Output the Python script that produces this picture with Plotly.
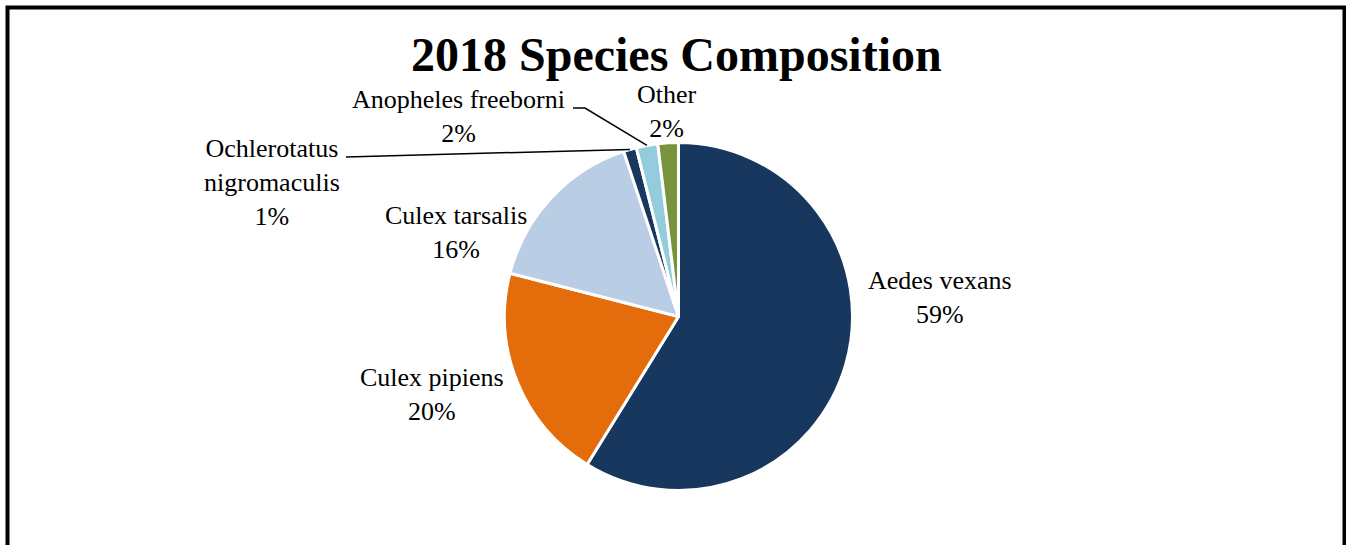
import math
import plotly.graph_objects as go

# 2018 trap counts by species, as a share of all mosquitoes (%)
species = ["Aedes vexans", "Culex pipiens", "Culex tarsalis",
           "Ochlerotatus nigromaculis", "Anopheles freeborni", "Other"]
shares = [58.8, 20.2, 15.9, 1.2, 2.0, 1.9]
colors = ["#17375E", "#E46C0A", "#B9CDE5", "#17375E", "#93CDDD", "#77933C"]

W, H = 1346, 545
CX, CY, R = 678.5, 316.5, 174.0   # pie centre / radius in pixels
SERIF = "Liberation Serif, Times New Roman, serif"


def px(x):
    return x / W


def py(y):
    return 1 - y / H


total = sum(shares)


def edge_point(i):
    """Pixel point on the rim at the middle of slice i (clockwise from 12 o'clock)."""
    start = sum(shares[:i])
    theta = math.radians((start + shares[i] / 2) / total * 360)
    return CX + R * math.sin(theta), CY - R * math.cos(theta)


fig = go.Figure(go.Pie(
    labels=species,
    values=shares,
    sort=False,
    direction="clockwise",
    rotation=0,
    marker=dict(colors=colors, line=dict(color="white", width=3)),
    textinfo="none",
    hoverinfo="label+percent",
    showlegend=False,
    domain=dict(x=[px(CX - R), px(CX + R)], y=[py(CY + R), py(CY - R)]),
))

# label text: name plus rounded percentage
label_lines = {
    "Ochlerotatus nigromaculis": "Ochlerotatus<br>nigromaculis",
}
label_pos = [(940, 297), (432, 394), (456, 233), (272, 182), (458, 116), (667, 111)]

annotations = []
for name, v, (lx, ly) in zip(species, shares, label_pos):
    pct = round(v / total * 100)
    annotations.append(dict(
        x=px(lx), y=py(ly), xref="paper", yref="paper",
        xanchor="center", yanchor="middle", showarrow=False, align="center",
        text=f"{label_lines.get(name, name)}<br>{pct}%",
        font=dict(family=SERIF, size=26, color="black"),
    ))

annotations.append(dict(
    x=px(676), y=py(54), xref="paper", yref="paper",
    xanchor="center", yanchor="middle", showarrow=False,
    text="<b>2018 Species Composition</b>",
    font=dict(family=SERIF, size=48, color="black"),
))

shapes = []
# leader line for Ochlerotatus nigromaculis
ox, oy = edge_point(3)
shapes.append(dict(type="line", xref="paper", yref="paper",
                   x0=px(346), y0=py(157), x1=px(ox), y1=py(oy),
                   line=dict(color="black", width=1.5)))
# leader line for Anopheles freeborni (short horizontal run then diagonal)
ax, ay = edge_point(4)
shapes.append(dict(type="path", xref="paper", yref="paper",
                   path=f"M {px(573)} {py(108)} L {px(585)} {py(108)} L {px(ax)} {py(ay)}",
                   line=dict(color="black", width=1.5)))
# outer frame of the chart
shapes.append(dict(type="rect", xref="paper", yref="paper",
                   x0=px(7.5), x1=px(1344.5), y0=-0.1, y1=py(7.5),
                   line=dict(color="black", width=4), fillcolor="rgba(0,0,0,0)"))

fig.update_layout(
    width=W, height=H,
    margin=dict(l=0, r=0, t=0, b=0),
    paper_bgcolor="white",
    plot_bgcolor="white",
    annotations=annotations,
    shapes=shapes,
)

fig.write_html("out.html")
